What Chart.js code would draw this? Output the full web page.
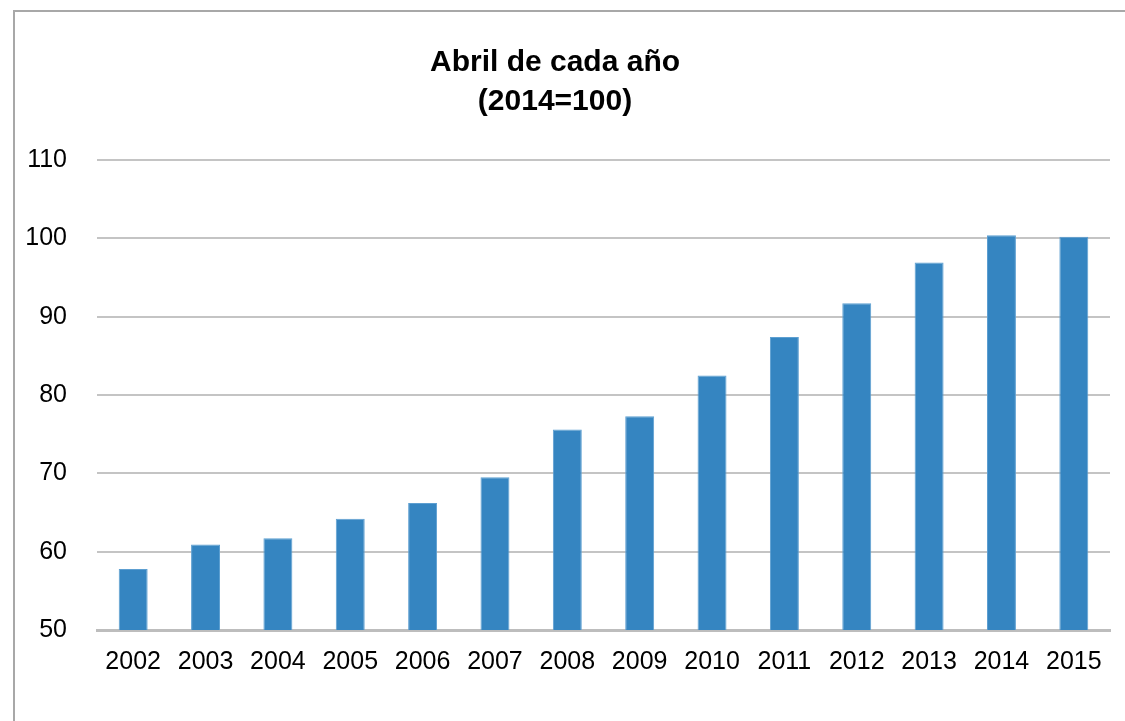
<!DOCTYPE html>
<html>
<head>
<meta charset="utf-8">
<script src="https://cdn.jsdelivr.net/npm/chart.js@4"></script>
<style>
  html, body { margin: 0; padding: 0; background: #fff; }
  #wrap { position: relative; width: 1125px; height: 721px; overflow: hidden; }
  #frame {
    position: absolute; left: 13px; top: 10px; right: -5px; bottom: -5px;
    border-top: 2px solid #a8a8a8; border-left: 2px solid #a8a8a8;
    pointer-events: none;
  }
  canvas { position: absolute; left: 0; top: 0; }
</style>
</head>
<body>
<div id="wrap">
  <canvas id="chart" width="1125" height="721"></canvas>
  <div id="frame"></div>
</div>
<script>
// años y valores del índice (abril de cada año, 2014=100)
const years = ["2002", "2003", "2004", "2005", "2006", "2007", "2008",
               "2009", "2010", "2011", "2012", "2013", "2014", "2015"];
const values = [57.8, 60.9, 61.7, 64.2, 66.2, 69.5, 75.6,
                77.3, 82.5, 87.4, 91.7, 96.9, 100.4, 100.2];
const yTicks = [50, 60, 70, 80, 90, 100, 110];

const ctx = document.getElementById('chart').getContext('2d');
const chart = new Chart(ctx, {
    type: 'bar',
    data: {
        labels: years,
        datasets: [{
            data: values,
            backgroundColor: '#3585c1',
            borderColor: '#5d9fd1',
            borderWidth: 1,
            barPercentage: 0.8,
            categoryPercentage: 0.5
        }]
    },
    options: {
        responsive: false,
        animation: false,
        layout: { padding: { left: 0, right: 15, top: 0, bottom: 27 } },
        plugins: {
            legend: { display: false },
            tooltip: { enabled: false },
            title: {
                display: true,
                text: ['Abril de cada año', '(2014=100)'],
                color: '#000',
                font: { family: 'Liberation Sans, Arial', size: 30, weight: 'bold', lineHeight: 1.3 },
                padding: { top: 43, bottom: 39 }
            }
        },
        scales: {
            x: {
                grid: { display: false, drawTicks: false },
                border: { display: true, color: '#bdbdbd', width: 3 },
                ticks: {
                    color: '#000',
                    font: { family: 'Liberation Sans, Arial', size: 25 },
                    padding: 17,
                    maxRotation: 0
                }
            },
            y: {
                min: 50,
                max: 110,
                afterFit: function (scale) { scale.width = 97; },
                afterBuildTicks: function (scale) {
                    scale.ticks = yTicks.map(v => ({ value: v }));
                },
                grid: { color: '#c4c4c4', lineWidth: 2, drawTicks: false },
                border: { display: false },
                ticks: {
                    color: '#000',
                    font: { family: 'Liberation Sans, Arial', size: 25 },
                    padding: 30
                }
            }
        }
    }
});
</script>
</body>
</html>
